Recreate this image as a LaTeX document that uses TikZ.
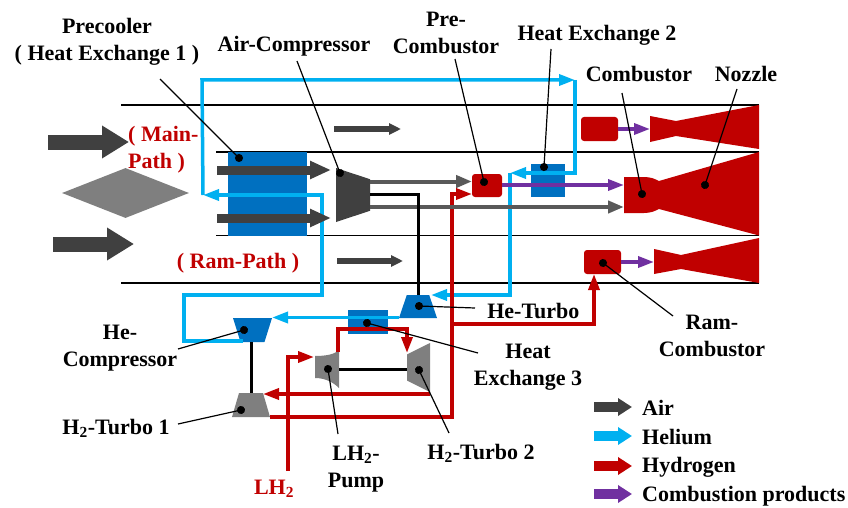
\documentclass[tikz,border=0pt]{standalone}
\usepackage{fontspec}
\setmainfont{Liberation Serif}
\usetikzlibrary{shapes.geometric, positioning, arrows.meta}
\definecolor{air}{HTML}{404040}
\definecolor{airthin}{HTML}{595959}
\definecolor{helium}{HTML}{00B0F0}
\definecolor{hydrogen}{HTML}{C00000}
\definecolor{product}{HTML}{7030A0}
\definecolor{exchanger}{HTML}{0070C0}
\definecolor{machine}{HTML}{7F7F7F}
\tikzset{
    block/.style={rectangle, inner sep=0pt, outer sep=0pt, fill=exchanger},
    burner/.style={rectangle, rounded corners=3pt, inner sep=0pt, outer sep=0pt, fill=hydrogen},
    turbine/.style={trapezium, trapezium stretches=true, inner sep=1pt, outer sep=0pt},
    duct/.style={black, line width=1.2pt},
    shaft/.style={black, line width=3pt},
    main air/.style={air, line width=15pt, -{Triangle[length=27pt,width=31pt]}},
    core air/.style={air, line width=9pt, -{Triangle[length=21pt,width=17pt]}},
    thin air/.style={airthin, line width=4pt, -{Triangle[length=16pt,width=12pt]}},
    side air/.style={air, line width=6pt, -{Triangle[length=12pt,width=11pt]}},
    helium line/.style={helium, line width=3.5pt, -{Triangle[length=16pt,width=11pt]}},
    hydrogen line/.style={hydrogen, line width=3.5pt, -{Triangle[length=16pt,width=11pt]}},
    product line/.style={product, line width=3.5pt, -{Triangle[length=16pt,width=11pt]}},
    legend arrow/.style={line width=10pt, -{Triangle[length=14pt,width=17pt]}},
    leader/.style={black, line width=1.2pt, {Circle[length=8pt]}-, shorten <=-4pt},
    tag/.style={font=\fontsize{22}{27}\selectfont\bfseries, align=center, inner sep=0pt},
}

\begin{document}
\begin{tikzpicture}[x=1pt, y=-1pt, node distance=10pt]
    \useasboundingbox (0,0) rectangle (848,508);

    \coordinate (duct a start) at (121,105);
    \coordinate (duct a end) at (759,105);
    \coordinate (duct b start) at (216,152);
    \coordinate (duct b end) at (759,152);
    \coordinate (duct c start) at (216,235.5);
    \coordinate (duct c end) at (759,235.5);
    \coordinate (duct d start) at (121,283);
    \coordinate (duct d end) at (759,283);
    \draw[duct] (duct a start) -- (duct a end);
    \draw[duct] (duct b start) -- (duct b end);
    \draw[duct] (duct c start) -- (duct c end);
    \draw[duct] (duct d start) -- (duct d end);

    \node[diamond, aspect=2.54, inner sep=0pt, minimum width=127pt, minimum height=50pt, fill=machine] (inlet cone) at (125.5,193) {};
    \node[block, minimum width=79.5pt, minimum height=84pt] (precooler) at (267.5,194) {};
    \node[turbine, fill=air, rotate=-90, trapezium left angle=70.5, trapezium right angle=70.5, minimum width=54pt, minimum height=34pt] (air compressor) at (353,195) {};
    \node[burner, minimum width=30pt, minimum height=23pt, right=119pt of air compressor.center, yshift=9.5pt] (pre combustor) {};
    \node[block, minimum width=34pt, minimum height=33pt, right=29pt of pre combustor, yshift=5pt] (heat exchange 2) {};
    \node[burner, minimum width=37pt, minimum height=24pt] (top combustor) at (599.5,129) {};
    \node[burner, minimum width=37pt, minimum height=24pt] (ram combustor) at (602.5,262) {};
    \node[turbine, fill=exchanger, trapezium left angle=70.8, trapezium right angle=70.8, minimum width=38pt, minimum height=23pt] (he turbo) at (418,306.5) {};
    \node[block, minimum width=40pt, minimum height=24pt] (heat exchange 3) at (368,322) {};
    \node[turbine, fill=exchanger, rotate=180, trapezium left angle=72.6, trapezium right angle=72.6, minimum width=39pt, minimum height=24pt] (he compressor) at (252.5,330) {};
    \node[turbine, fill=machine, trapezium left angle=73.7, trapezium right angle=73.7, minimum width=38pt, minimum height=24pt] (h2 turbo 1) at (251,405) {};
    \node[turbine, fill=machine, rotate=90, trapezium left angle=66.5, trapezium right angle=66.5, minimum width=49pt, minimum height=23pt] (h2 turbo 2) at (418.5,367.5) {};
    \coordinate (lh2 pump) at (327,369);
    \coordinate (pump outlet) at (338,352);
    \coordinate (pump shaft) at (339,369);
    \fill[machine] (315,356) .. controls (327,356) and (335,354) .. (339,350) -- (339,388) .. controls (335,384) and (327,378) .. (315,378) -- cycle;
    \fill[hydrogen] (650,116) -- (676,121) -- (759,105) -- (759,149) -- (676,136) -- (650,142) -- cycle;
    \fill[hydrogen] (624,177) -- (644,177) .. controls (651,177) and (655,179) .. (659,181) -- (759,152) -- (759,235.5) -- (659,209) .. controls (655,211) and (651,213) .. (644,213) -- (624,213) -- cycle;
    \fill[hydrogen] (654,249) -- (681,255) -- (759,238) -- (759,283) -- (681,269) -- (654,274) -- cycle;

    \coordinate (air in a start) at (48,142);
    \coordinate (air in a tip) at (129,142);
    \coordinate (air in b start) at (53,244);
    \coordinate (air in b tip) at (134,244);
    \coordinate (core a start) at (217,170);
    \coordinate (core a tip) at (331,170);
    \coordinate (core b start) at (217,218);
    \coordinate (core b tip) at (331,218);
    \coordinate (side a start) at (334,129);
    \coordinate (side a tip) at (401,129);
    \coordinate (side b start) at (337,261);
    \coordinate (side b tip) at (403,261);
    \coordinate (core out a) at (370,181.5);
    \coordinate (core out b) at (370,207);
    \coordinate (combustor inlet) at (624,207);
    \coordinate (combustor product) at (624,185);

    \coordinate (he return) at (203,195);
    \coordinate (he top left) at (202,80);
    \coordinate (he top right) at (575,80);
    \coordinate (he bend a) at (575,173);
    \coordinate (he drop) at (510,173);
    \coordinate (he bend b) at (510,295);
    \coordinate (he turbo in) at (431,295);
    \coordinate (he turbo out) at (399,317.5);
    \coordinate (he compressor in) at (272,317.5);
    \coordinate (he compressor out) at (243,341);
    \coordinate (he left low) at (184,341);
    \coordinate (he left high) at (184,295);
    \coordinate (he right high) at (322,295);
    \coordinate (he right top) at (322,195);

    \draw[helium line] (he return) -- (he top left) -- (he top right);
    \draw[helium line] (he top right) -- (he bend a) -- (he drop);
    \draw[helium line] (he drop) -- (he bend b) -- (he turbo in);
    \draw[helium line] (he turbo out) -- (he compressor in);
    \draw[helium line] (he compressor out) -- (he left low) -- (he left high) -- (he right high) -- (he right top) -- (he return);

    \coordinate (shaft bend) at (418,194);
    \coordinate (h2 pump corner) at (338,329);
    \coordinate (h2 turbo corner) at (407,329);
    \coordinate (h2 turbo in) at (407,353);
    \coordinate (h2 back start) at (430,394);
    \coordinate (h2 back tip) at (263,394);
    \coordinate (h2 main start) at (270,417);
    \coordinate (h2 main corner) at (452,417);
    \coordinate (h2 pre bend) at (452,194);
    \coordinate (h2 pre tip) at (472,194);
    \coordinate (h2 ram start) at (452,324);
    \coordinate (h2 ram corner) at (594,324);
    \coordinate (h2 ram tip) at (594,274);
    \coordinate (lh2 start) at (288,471);
    \coordinate (lh2 corner) at (288,357);
    \coordinate (lh2 tip) at (314,357);

    \draw[hydrogen line] (pump outlet) -- (h2 pump corner) -- (h2 turbo corner) -- (h2 turbo in);
    \draw[hydrogen line] (h2 back start) -- (h2 back tip);
    \draw[hydrogen line] (h2 main start) -- (h2 main corner) -- (h2 pre bend) -- (h2 pre tip);
    \draw[hydrogen line] (h2 ram start) -- (h2 ram corner) -- (h2 ram tip);
    \draw[hydrogen line] (lh2 start) -- (lh2 corner) -- (lh2 tip);

    \draw[main air] (air in a start) -- (air in a tip);
    \draw[main air] (air in b start) -- (air in b tip);
    \draw[core air] (core a start) -- (core a tip);
    \draw[core air] (core b start) -- (core b tip);
    \draw[side air] (side a start) -- (side a tip);
    \draw[side air] (side b start) -- (side b tip);
    \draw[thin air] (core out a) -- (core out a -| pre combustor.west);
    \draw[thin air] (core out b) -- (combustor inlet);
    \draw[product line] (pre combustor.east |- combustor product) -- (combustor product);
    \draw[product line] (top combustor.east) -- ++(32,0);
    \draw[product line] (ram combustor.east) -- ++(33,0);

    \draw[shaft] (core out a |- shaft bend) -- (shaft bend) -- (shaft bend |- he turbo.north);
    \draw[shaft] (h2 turbo 1.north |- he compressor.north) -- (h2 turbo 1.north);
    \draw[shaft] (pump shaft) -- (pump shaft -| h2 turbo 2.north);

    \node[tag] (precooler label) at (107,41.5) {Precooler\\( Heat Exchange 1 )};
    \node[tag] (air compressor label) at (294,46) {Air-Compressor};
    \node[tag] (pre combustor label) at (446,32.5) {Pre-\\Combustor};
    \node[tag] (heat exchange 2 label) at (597,35) {Heat Exchange 2};
    \node[tag] (combustor label) at (639,74) {Combustor};
    \node[tag] (nozzle label) at (746,74) {Nozzle};
    \node[tag, hydrogen, align=left, anchor=west] (main path label) at (128,149.5) {( Main-\\Path )};
    \node[tag, hydrogen] (ram path label) at (238,263) {( Ram-Path )};
    \node[tag, right=54pt of he turbo, yshift=-4pt] (he turbo label) {He-Turbo};
    \node[tag] (he compressor label) at (120,348) {He-\\Compressor};
    \node[tag] (heat exchange 3 label) at (528,367.5) {Heat\\Exchange 3};
    \node[tag] (ram combustor label) at (712,335.5) {Ram-\\Combustor};
    \node[tag] (h2 turbo 1 label) at (116,428) {H\textsubscript{2}-Turbo 1};
    \node[tag] (h2 turbo 2 label) at (481,453) {H\textsubscript{2}-Turbo 2};
    \node[tag] (lh2 pump label) at (356,469) {LH\textsubscript{2}-\\Pump};
    \node[tag, hydrogen] (lh2 label) at (274,489) {LH\textsubscript{2}};

    \node[tag, anchor=west] (air label) at (642,408) {Air};
    \node[tag, anchor=west] (helium label) at (642,437) {Helium};
    \node[tag, anchor=west] (hydrogen label) at (642,467) {Hydrogen};
    \node[tag, anchor=west] (product label) at (642,496) {Combustion products};
    \coordinate (air key) at (594,407);
    \coordinate (helium key) at (594,436);
    \coordinate (hydrogen key) at (594,466);
    \coordinate (product key) at (594,494);
    \draw[legend arrow, air] (air key) -- ++(38,0);
    \draw[legend arrow, helium] (helium key) -- ++(38,0);
    \draw[legend arrow, hydrogen] (hydrogen key) -- ++(38,0);
    \draw[legend arrow, product] (product key) -- ++(38,0);

    \coordinate (precooler dot) at (239,158);
    \coordinate (precooler tail) at (160,79);
    \coordinate (air compressor dot) at (340,173);
    \coordinate (air compressor tail) at (297,61);
    \coordinate (pre combustor dot) at (484,182);
    \coordinate (pre combustor tail) at (455,59);
    \coordinate (heat exchange 2 dot) at (544,167);
    \coordinate (heat exchange 2 tail) at (551,49);
    \coordinate (combustor dot) at (642,194);
    \coordinate (combustor tail) at (622,93);
    \coordinate (nozzle dot) at (705,185);
    \coordinate (nozzle tail) at (737,89);
    \coordinate (he compressor dot) at (244,330);
    \coordinate (he compressor tail) at (178,349);
    \coordinate (h2 turbo 1 dot) at (241,410);
    \coordinate (h2 turbo 1 tail) at (178,424);
    \coordinate (lh2 pump dot) at (328,369);
    \coordinate (lh2 pump tail) at (338,434);
    \coordinate (h2 turbo 2 dot) at (419,370);
    \coordinate (h2 turbo 2 tail) at (449,433);
    \coordinate (he turbo dot) at (419,306);
    \coordinate (he turbo tail) at (475,308);
    \coordinate (heat exchange 3 dot) at (367,323);
    \coordinate (heat exchange 3 tail) at (478,353);
    \coordinate (ram combustor dot) at (603,263);
    \coordinate (ram combustor tail) at (673,316);

    \draw[leader] (precooler dot) -- (precooler tail);
    \draw[leader] (air compressor dot) -- (air compressor tail);
    \draw[leader] (pre combustor dot) -- (pre combustor tail);
    \draw[leader] (heat exchange 2 dot) -- (heat exchange 2 tail);
    \draw[leader] (combustor dot) -- (combustor tail);
    \draw[leader] (nozzle dot) -- (nozzle tail);
    \draw[leader] (he compressor dot) -- (he compressor tail);
    \draw[leader] (h2 turbo 1 dot) -- (h2 turbo 1 tail);
    \draw[leader] (lh2 pump dot) -- (lh2 pump tail);
    \draw[leader] (h2 turbo 2 dot) -- (h2 turbo 2 tail);
    \draw[leader] (he turbo dot) -- (he turbo tail);
    \draw[leader] (heat exchange 3 dot) -- (heat exchange 3 tail);
    \draw[leader] (ram combustor dot) -- (ram combustor tail);
\end{tikzpicture}
\end{document}
